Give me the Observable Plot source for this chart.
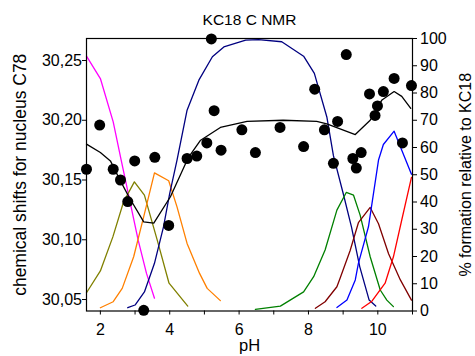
<!DOCTYPE html>
<html><head><meta charset="utf-8">
<script src="https://cdn.jsdelivr.net/npm/d3@7"></script>
<script src="https://cdn.jsdelivr.net/npm/@observablehq/plot@0.6"></script>
<style>body{margin:0;background:#fff}</style>
</head><body><div id="chart"></div>
<script>
// Measured chemical shifts (left axis)
const shiftPH  = [1.6, 1.98, 2.37, 2.58, 2.79, 2.99, 3.25, 3.57, 3.97, 4.5, 4.78, 5.07, 5.2, 5.28, 5.48, 6.08, 6.47, 7.18, 7.86, 8.18, 8.46, 8.72, 8.84, 9.09, 9.28, 9.38, 9.52, 9.76, 9.92, 9.99, 10.16, 10.47, 10.71, 10.97];
const shiftVal = [30.159, 30.196, 30.159, 30.150, 30.132, 30.166, 30.041, 30.169, 30.112, 30.168, 30.170, 30.181, 30.268, 30.208, 30.175, 30.192, 30.173, 30.194, 30.178, 30.226, 30.192, 30.164, 30.199, 30.255, 30.168, 30.160, 30.173, 30.222, 30.204, 30.212, 30.224, 30.235, 30.181, 30.229];
// Fitted chemical shift curve (left axis)
const fitCurve = [[1.6,30.180],[2.0,30.173],[2.29,30.166],[2.53,30.152],[2.82,30.136],[3.25,30.115],[3.54,30.114],[4.02,30.136],[4.54,30.169],[4.88,30.183],[5.46,30.194],[6.23,30.199],[7.27,30.200],[8.24,30.199],[8.53,30.197],[9.35,30.188],[9.78,30.200],[10.12,30.217],[10.47,30.224],[10.69,30.220],[10.95,30.210]];
// Species distribution (% formation, right axis)
const magentaPts = [[1.6,93.5],[2.0,85.3],[2.37,69.4],[2.6,55.4],[3.09,26.0],[3.33,13.8],[3.56,4.7]];
const olivePts   = [[1.6,6.7],[2.0,14.7],[2.36,27.2],[2.67,40.1],[2.98,47.4],[3.27,42.5],[3.64,26.0],[3.98,10.2],[4.52,1.8]];
const orangePts  = [[2.0,1.2],[2.37,3.4],[2.63,8.3],[2.96,19.9],[3.25,34.6],[3.56,50.7],[3.97,47.8],[4.21,38.2],[4.5,24.8],[4.86,13.8],[5.08,8.3],[5.46,3.8]];
const navyPts    = [[2.79,1.2],[3.0,2.2],[3.27,7.0],[3.56,17.5],[3.82,30.9],[4.0,43.2],[4.21,55.4],[4.5,73.7],[4.84,84.7],[5.23,93.3],[5.56,96.9],[6.19,99.4],[6.56,99.6],[7.23,98.8],[7.86,93.5],[8.17,87.2],[8.53,71.2],[8.72,57.0],[9.0,43.2],[9.24,30.9],[9.48,16.2],[9.75,4.0],[9.94,1.8]];
const greenPts   = [[6.47,0.6],[7.19,1.8],[7.86,7.0],[8.15,12.6],[8.48,22.4],[8.82,37.0],[9.09,43.5],[9.3,42.5],[9.49,35.2],[9.78,19.9],[10.07,7.7],[10.26,4.0],[10.45,1.6]];
const maroonPts  = [[8.2,1.0],[8.48,3.4],[8.82,8.9],[8.92,12.3],[9.2,22.1],[9.44,32.4],[9.78,38.0],[10.02,32.0],[10.31,21.0],[10.65,11.4],[10.97,4.0]];
const bluePts    = [[8.82,1.3],[9.11,4.0],[9.35,11.4],[9.44,17.5],[9.73,30.9],[10.02,55.4],[10.16,61.1],[10.47,66.0],[10.97,50.2]];
const redPts     = [[9.54,1.0],[9.83,3.6],[10.21,10.2],[10.45,19.9],[10.69,33.4],[10.97,49.0]];

const leftTicks  = [30.05, 30.10, 30.15, 30.20, 30.25];
const rightTicks = [0,10,20,30,40,50,60,70,80,90,100];
const xTicks     = [2,3,4,5,6,7,8,9,10,11];
const titleText  = "KC18 C NMR";
const leftLabel  = "chemical shifts for nucleus C78";
const rightLabel = "% formation relative to KC18";
const xLabel     = "pH";

const lo = 30.0404, hi = 30.2684;
const pctToY = p => lo + p / 100 * (hi - lo);
const yToPct = v => (v - lo) / (hi - lo) * 100;

const species = [
  {pts: magentaPts, color: "#ff00ff"},
  {pts: olivePts,   color: "#808000"},
  {pts: orangePts,  color: "#ff8000"},
  {pts: navyPts,    color: "#000080"},
  {pts: greenPts,   color: "#008000"},
  {pts: maroonPts,  color: "#800000"},
  {pts: bluePts,    color: "#0000ff"},
  {pts: redPts,     color: "#ff0000"}
];
const lineMarks = species.map(s => Plot.line(s.pts, {x: d => d[0], y: d => pctToY(d[1]), stroke: s.color, strokeWidth: 1.3}));
const dots = shiftPH.map((x, i) => ({x, y: shiftVal[i]}));

const chart = Plot.plot({
  width: 475, height: 356,
  marginLeft: 86, marginRight: 63, marginTop: 38, marginBottom: 45.5,
  x: {domain: [1.6, 11]},
  y: {domain: [lo, hi]},
  style: {fontFamily: "'Liberation Sans', Arial, sans-serif", fontSize: "16px", background: "#fff", color: "#000"},
  marks: [
    ...lineMarks,
    Plot.line(fitCurve, {x: d => d[0], y: d => d[1], stroke: "black", strokeWidth: 1.3}),
    Plot.dot(dots, {x: "x", y: "y", r: 5.5, fill: "black"}),
    Plot.frame({stroke: "black", strokeWidth: 1.2}),
    Plot.axisY(leftTicks, {anchor: "left", tickSize: 4, tickPadding: 0.5, tickFormat: d => d.toFixed(2).replace(".", ","), fontSize: 16, label: null}),
    Plot.axisY(rightTicks.map(pctToY), {anchor: "right", tickSize: 4, tickPadding: 3.5, tickFormat: v => String(Math.round(yToPct(v))), fontSize: 16, label: null}),
    Plot.axisX(xTicks, {anchor: "bottom", tickSize: 4, tickPadding: 8.5, tickFormat: d => (d % 2 === 0 ? String(d) : ""), fontSize: 16, label: null}),
    Plot.text([titleText], {frameAnchor: "top", dy: -18, lineAnchor: "middle", textAnchor: "middle", fontSize: 15.5}),
    Plot.text([leftLabel], {frameAnchor: "left", dx: -66.5, rotate: -90, lineAnchor: "middle", textAnchor: "middle", fontSize: 17.5}),
    Plot.text([rightLabel], {frameAnchor: "right", dx: 53, rotate: -90, lineAnchor: "middle", textAnchor: "middle", fontSize: 16}),
    Plot.text([xLabel], {frameAnchor: "bottom", dy: 35, lineAnchor: "middle", textAnchor: "middle", fontSize: 16.5})
  ]
});
document.getElementById("chart").appendChild(chart);
</script>
</body></html>
